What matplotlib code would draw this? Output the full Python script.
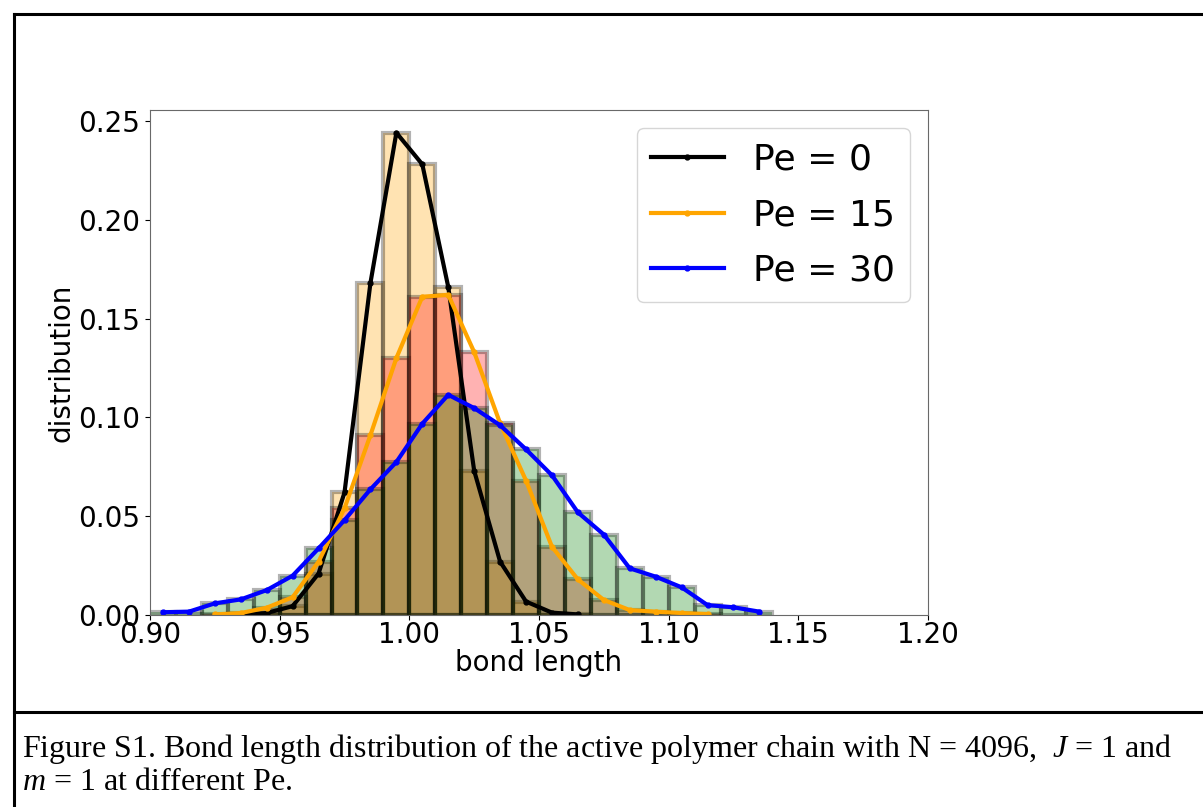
import numpy as np
import matplotlib
matplotlib.use("Agg")
import matplotlib.pyplot as plt
from matplotlib.lines import Line2D

# bin width 0.01, values are bin centres
bin_width = 0.01

x_pe0 = [0.935, 0.945, 0.955, 0.965, 0.975, 0.985, 0.995, 1.005, 1.015, 1.025,
         1.035, 1.045, 1.055, 1.065]
y_pe0 = [0.0002, 0.001, 0.0045, 0.021, 0.062, 0.168, 0.244, 0.228, 0.166, 0.073,
         0.027, 0.0068, 0.0012, 0.0003]

x_pe15 = [0.925, 0.935, 0.945, 0.955, 0.965, 0.975, 0.985, 0.995, 1.005, 1.015,
          1.025, 1.035, 1.045, 1.055, 1.065, 1.075, 1.085, 1.095, 1.105, 1.115]
y_pe15 = [0.0003, 0.001, 0.0037, 0.009, 0.027, 0.054, 0.091, 0.130, 0.161, 0.162,
          0.133, 0.097, 0.068, 0.0345, 0.018, 0.0076, 0.0025, 0.0017, 0.001, 0.0005]

x_pe30 = [0.905, 0.915, 0.925, 0.935, 0.945, 0.955, 0.965, 0.975, 0.985, 0.995,
          1.005, 1.015, 1.025, 1.035, 1.045, 1.055, 1.065, 1.075, 1.085, 1.095,
          1.105, 1.115, 1.125, 1.135]
y_pe30 = [0.0014, 0.0017, 0.0059, 0.0079, 0.0126, 0.0199, 0.0337, 0.048, 0.0636, 0.0774,
          0.0968, 0.1114, 0.1047, 0.096, 0.0838, 0.0707, 0.0519, 0.0407, 0.0236, 0.0194,
          0.014, 0.005, 0.0039, 0.0017]

labels = ["Pe = 0", "Pe = 15", "Pe = 30"]
xticks = [0.90, 0.95, 1.00, 1.05, 1.10, 1.15, 1.20]
yticks = [0.00, 0.05, 0.10, 0.15, 0.20, 0.25]

caption1 = "Figure S1. Bond length distribution of the active polymer chain with N = 4096,  $J$ = 1 and"
caption2 = "$m$ = 1 at different Pe."

plt.rcParams['mathtext.fontset'] = 'custom'
plt.rcParams['mathtext.rm'] = 'Liberation Serif'
plt.rcParams['mathtext.it'] = 'Liberation Serif:italic'

fig = plt.figure(figsize=(12.03, 8.07), dpi=100)
ax = fig.add_axes([0.1247, 0.2379, 0.6467, 0.6258])

bar_sets = [(x_pe0, y_pe0, "orange"), (x_pe15, y_pe15, "red"), (x_pe30, y_pe30, "green")]
for xs, ys, c in bar_sets:
    ax.bar(np.array(xs), ys, width=bin_width, color=c, alpha=0.3,
           edgecolor="black", linewidth=3)

ax.plot(x_pe0, y_pe0, color="black", lw=3, marker="o", ms=3.5, label=labels[0])
ax.plot(x_pe15, y_pe15, color="orange", lw=3, marker="o", ms=3.5, label=labels[1])
ax.plot(x_pe30, y_pe30, color="blue", lw=3, marker="o", ms=3.5, label=labels[2])

ax.set_xlim(0.90, 1.20)
ax.set_ylim(0, 0.2555)
ax.set_xticks(xticks)
ax.set_yticks(yticks)
ax.set_xticklabels(["%.2f" % t for t in xticks])
ax.set_yticklabels(["%.2f" % t for t in yticks])
ax.tick_params(labelsize=20)
ax.tick_params(axis="x", pad=0.5)
ax.set_xlabel("bond length", fontsize=20, labelpad=0)
ax.set_ylabel("distribution", fontsize=20, labelpad=2)
for s in ax.spines.values():
    s.set_color("dimgray")

ax.legend(fontsize=26, loc="upper right", labelspacing=0.6, handletextpad=0.83)

# page frame around the figure
def frame_line(x0, y0, x1, y1):
    fig.add_artist(Line2D([x0 / 1203, x1 / 1203], [1 - y0 / 807, 1 - y1 / 807],
                          color="black", lw=2.2))

frame_line(14, 14, 1203, 14)
frame_line(14, 14, 14, 807)
frame_line(14, 712, 1203, 712)

fig.text(22 / 1203, 1 - 749 / 807, caption1, fontsize=23, family="Liberation Serif", va="center")
fig.text(22 / 1203, 1 - 782 / 807, caption2, fontsize=23, family="Liberation Serif", va="center")

fig.savefig("out.png", dpi=100)
